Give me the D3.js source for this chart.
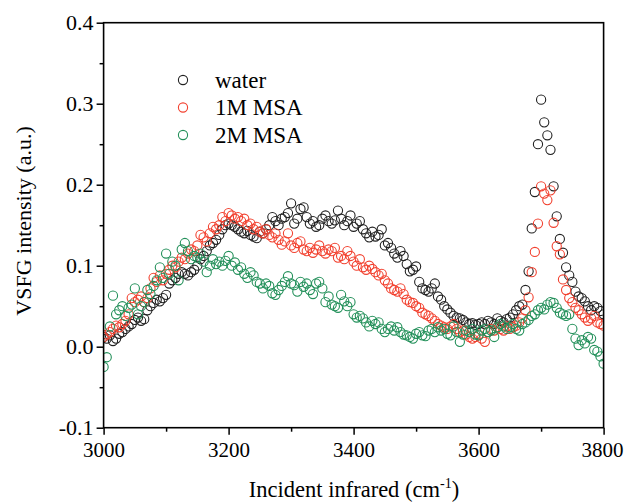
<!DOCTYPE html>
<html lang="en">
<head>
<meta charset="utf-8">
<script src="https://d3js.org/d3.v7.min.js"></script>
<style>
  body { margin: 0; background: #fff; }
</style>
</head>
<body>
<svg width="624" height="502"></svg>
<script>
// wavenumbers (cm-1), one per measured point
var wavenumbers = [3000,3005,3010,3015,3020,3025,3030,3035,3040,3045,3050,3055,3060,3065,3070,3075,3080,3085,3090,3095,
  3100,3105,3110,3115,3120,3125,3130,3135,3140,3145,3150,3155,3160,3165,3170,3175,3180,3185,3190,3195,
  3200,3205,3210,3215,3220,3225,3230,3235,3240,3245,3250,3255,3260,3265,3270,3275,3280,3285,3290,3295,
  3300,3305,3310,3315,3320,3325,3330,3335,3340,3345,3350,3355,3360,3365,3370,3375,3380,3385,3390,3395,
  3400,3405,3410,3415,3420,3425,3430,3435,3440,3445,3450,3455,3460,3465,3470,3475,3480,3485,3490,3495,
  3500,3505,3510,3515,3520,3525,3530,3535,3540,3545,3550,3555,3560,3565,3570,3575,3580,3585,3590,3595,
  3600,3605,3610,3615,3620,3625,3630,3635,3640,3645,3650,3655,3660,3665,3670,3675,3680,3685,3690,3695,
  3700,3705,3710,3715,3720,3725,3730,3735,3740,3745,3750,3755,3760,3765,3770,3775,3780,3785,3790,3795,3800];

var water = [0.012,0.010,0.014,0.007,0.010,0.016,0.018,0.022,0.025,0.028,0.033,0.036,0.032,0.034,0.045,0.050,0.054,0.058,0.056,0.060,
  0.064,0.078,0.082,0.085,0.090,0.092,0.090,0.088,0.092,0.095,0.100,0.108,0.112,0.118,0.125,0.128,0.132,0.138,0.145,0.150,
  0.152,0.150,0.148,0.145,0.142,0.140,0.143,0.138,0.136,0.134,0.142,0.140,0.145,0.150,0.160,0.155,0.150,0.158,0.160,0.165,
  0.177,0.152,0.158,0.170,0.172,0.160,0.152,0.155,0.148,0.150,0.158,0.162,0.155,0.152,0.156,0.168,0.158,0.150,0.155,0.162,
  0.148,0.152,0.155,0.145,0.140,0.135,0.142,0.136,0.138,0.145,0.125,0.128,0.122,0.115,0.110,0.118,0.112,0.102,0.093,0.095,
  0.099,0.080,0.072,0.070,0.068,0.072,0.078,0.062,0.058,0.050,0.046,0.042,0.038,0.036,0.035,0.033,0.030,0.028,0.029,0.027,
  0.028,0.030,0.028,0.032,0.030,0.028,0.035,0.032,0.030,0.034,0.036,0.040,0.045,0.050,0.052,0.070,0.093,0.146,0.191,0.250,
  0.305,0.277,0.261,0.243,0.198,0.161,0.133,0.116,0.098,0.088,0.080,0.068,0.062,0.060,0.056,0.050,0.045,0.050,0.048,0.044,0.040];

var msa1M = [0.012,0.015,0.018,0.022,0.026,0.024,0.028,0.032,0.040,0.060,0.055,0.058,0.062,0.055,0.060,0.072,0.085,0.080,0.088,0.082,
  0.090,0.095,0.100,0.098,0.105,0.110,0.108,0.115,0.120,0.118,0.125,0.138,0.135,0.130,0.140,0.148,0.145,0.150,0.160,0.155,
  0.165,0.162,0.158,0.160,0.155,0.158,0.150,0.152,0.145,0.148,0.142,0.140,0.145,0.138,0.135,0.140,0.132,0.126,0.130,0.140,
  0.125,0.122,0.128,0.130,0.120,0.118,0.122,0.116,0.120,0.125,0.118,0.115,0.120,0.118,0.122,0.110,0.112,0.108,0.118,0.112,
  0.105,0.100,0.108,0.098,0.095,0.100,0.096,0.092,0.088,0.090,0.082,0.078,0.072,0.070,0.068,0.072,0.065,0.058,0.055,0.054,
  0.050,0.048,0.042,0.040,0.038,0.035,0.032,0.028,0.026,0.024,0.022,0.025,0.028,0.022,0.018,0.020,0.015,0.012,0.010,0.012,
  0.015,0.010,0.006,0.018,0.022,0.020,0.024,0.022,0.020,0.025,0.022,0.024,0.026,0.030,0.035,0.045,0.061,0.092,0.117,0.152,
  0.198,0.189,0.181,0.193,0.153,0.124,0.114,0.083,0.070,0.060,0.055,0.048,0.045,0.040,0.036,0.032,0.035,0.038,0.030,0.028,0.026];

var msa2M = [-0.025,-0.013,0.025,0.063,0.040,0.045,0.050,0.038,0.048,0.052,0.072,0.040,0.050,0.055,0.070,0.065,0.075,0.082,0.098,0.085,
  0.115,0.090,0.105,0.100,0.082,0.120,0.128,0.118,0.108,0.112,0.110,0.115,0.105,0.092,0.100,0.108,0.102,0.105,0.100,0.106,
  0.112,0.100,0.104,0.095,0.098,0.090,0.085,0.092,0.088,0.080,0.078,0.072,0.078,0.075,0.066,0.064,0.070,0.075,0.080,0.087,
  0.078,0.076,0.068,0.080,0.074,0.078,0.070,0.065,0.078,0.080,0.072,0.055,0.062,0.052,0.050,0.048,0.064,0.056,0.050,0.055,
  0.040,0.036,0.038,0.035,0.030,0.025,0.032,0.028,0.030,0.022,0.018,0.022,0.025,0.020,0.024,0.018,0.015,0.014,0.012,0.010,
  0.016,0.018,0.014,0.013,0.020,0.022,0.018,0.024,0.020,0.022,0.016,0.014,0.025,0.018,0.006,0.015,0.020,0.018,0.022,0.015,
  0.014,0.020,0.022,0.018,0.020,0.012,0.024,0.028,0.025,0.022,0.024,0.028,0.022,0.020,0.028,0.030,0.033,0.038,0.040,0.045,
  0.048,0.046,0.052,0.055,0.054,0.048,0.042,0.040,0.038,0.040,0.022,0.010,0.002,0.008,0.004,0.012,0.010,-0.004,-0.006,-0.012,-0.021];

var seriesNames = ["water", "1M MSA", "2M MSA"];
var seriesColors = ["#222222", "#f2412f", "#23905a"];
var seriesValues = [water, msa1M, msa2M];

var xTicks = [3000, 3200, 3400, 3600, 3800];
var yTicks = [-0.1, 0.0, 0.1, 0.2, 0.3, 0.4];

var serif = "'Liberation Serif'";

var svg = d3.select("svg"),
    plotL = 103.6, plotR = 603.6, plotT = 22.7, plotB = 427.7;

var x = d3.scaleLinear().domain([3000, 3800]).range([plotL, plotR]);
var y = d3.scaleLinear().domain([-0.1, 0.4]).range([plotB, plotT]);

svg.append("clipPath").attr("id", "plotclip")
   .append("rect")
   .attr("x", plotL).attr("y", plotT)
   .attr("width", plotR - plotL).attr("height", plotB - plotT);

// points, water first so the MSA series sit on top
var plot = svg.append("g").attr("clip-path", "url(#plotclip)");
seriesValues.forEach(function(vals, i) {
  plot.append("g")
    .selectAll("circle")
    .data(vals)
    .enter().append("circle")
    .attr("cx", function(d, j) { return x(wavenumbers[j]); })
    .attr("cy", function(d) { return y(d); })
    .attr("r", 4.6)
    .attr("fill", "none")
    .attr("stroke", seriesColors[i])
    .attr("stroke-width", 1.1);
});

// minor ticks
svg.append("g")
   .attr("transform", "translate(0," + plotB + ")")
   .call(d3.axisBottom(x).tickValues([3100, 3300, 3500, 3700]).tickSize(4).tickFormat(""))
   .call(function(g) { g.select(".domain").remove(); })
   .selectAll("line").attr("stroke-width", 1.5);
svg.append("g")
   .attr("transform", "translate(" + plotL + ",0)")
   .call(d3.axisLeft(y).tickValues([-0.05, 0.05, 0.15, 0.25, 0.35]).tickSize(4).tickFormat(""))
   .call(function(g) { g.select(".domain").remove(); })
   .selectAll("line").attr("stroke-width", 1.5);

// major ticks + labels (plain hyphen for the minus sign, as in the original)
var xAxis = svg.append("g")
   .attr("transform", "translate(0," + plotB + ")")
   .call(d3.axisBottom(x).tickValues(xTicks).tickSize(7).tickPadding(7).tickFormat(function(d) { return d; }));
xAxis.select(".domain").remove();
xAxis.selectAll("line").attr("stroke-width", 1.5);
xAxis.selectAll("text").style("font-family", serif).style("font-size", "21px").attr("fill", "#000");
// last label sits right at the page edge
xAxis.selectAll("text").filter(function(d) { return d === 3800; }).attr("dx", -1.5);

var yAxis = svg.append("g")
   .attr("transform", "translate(" + plotL + ",0)")
   .call(d3.axisLeft(y).tickValues(yTicks).tickSize(7).tickPadding(3)
     .tickFormat(function(d) { return d.toFixed(1); }));
yAxis.select(".domain").remove();
yAxis.selectAll("line").attr("stroke-width", 1.5);
yAxis.selectAll("text").style("font-family", serif).style("font-size", "22px").attr("fill", "#000");

// frame
svg.append("rect")
   .attr("x", plotL).attr("y", plotT)
   .attr("width", plotR - plotL).attr("height", plotB - plotT)
   .attr("fill", "none").attr("stroke", "#000").attr("stroke-width", 1.6);

// axis titles
svg.append("text")
   .attr("x", 354).attr("y", 497)
   .attr("text-anchor", "middle")
   .style("font-family", serif)
   .style("font-size", "22.5px")
   .html('Incident infrared (cm<tspan dy="-9" style="font-size:14px">-1</tspan><tspan dy="9">)</tspan>');

svg.append("text")
   .attr("transform", "translate(31,221) rotate(-90)")
   .attr("text-anchor", "middle")
   .style("font-family", serif)
   .style("font-size", "22px")
   .text("VSFG intensity (a.u.)");

// legend
var legend = svg.append("g");
seriesNames.forEach(function(name, i) {
  var ly = 80 + i * 27.5;
  legend.append("circle")
    .attr("cx", 183).attr("cy", ly).attr("r", 4.6)
    .attr("fill", "none").attr("stroke", seriesColors[i]).attr("stroke-width", 1.1);
  legend.append("text")
    .attr("x", 215).attr("y", ly + 7.5)
    .style("font-family", serif)
    .style("font-size", "23px")
    .text(name);
});
</script>
</body>
</html>
